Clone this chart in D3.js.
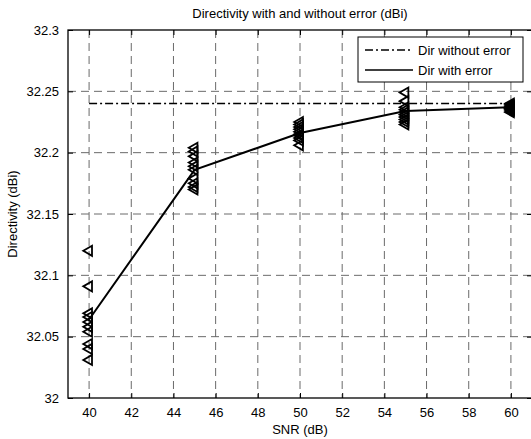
<!DOCTYPE html>
<html lang="en">
<head>
  <meta charset="UTF-8">
  <title>Directivity with and without error</title>
  <script src="https://d3js.org/d3.v7.min.js"></script>
</head>
<style>
  body {
    margin: 0;
    background: #fff;
  }
  svg {
    display: block;
    font-family: "Liberation Sans", Arial, sans-serif;
  }
  .grid line {
    stroke: #6a6a6a;
    stroke-width: 1px;
    stroke-dasharray: 8,5;
  }
</style>
<body>
<div id="chart"></div>

<script>
  // chart data
  var snr = [40, 45, 50, 55, 60];
  // directivity of each trial run (dBi), one list per SNR value
  var trialsAt40 = [32.12, 32.091, 32.069, 32.066, 32.062, 32.058, 32.054, 32.044, 32.040, 32.031];
  var trialsAt45 = [32.204, 32.201, 32.197, 32.192, 32.189, 32.186, 32.179, 32.175, 32.172, 32.170];
  var trialsAt50 = [32.225, 32.223, 32.221, 32.219, 32.217, 32.215, 32.214, 32.212, 32.210, 32.206];
  var trialsAt55 = [32.249, 32.242, 32.237, 32.235, 32.233, 32.231, 32.229, 32.227, 32.225, 32.223];
  var trialsAt60 = [32.240, 32.239, 32.238, 32.237, 32.237, 32.236, 32.236, 32.235, 32.234, 32.233];
  var dirWithError = [32.064, 32.186, 32.216, 32.234, 32.237];
  var dirWithoutError = [32.24, 32.24, 32.24, 32.24, 32.24];
  var xTicks = [40, 42, 44, 46, 48, 50, 52, 54, 56, 58, 60];
  var yTicks = [32, 32.05, 32.1, 32.15, 32.2, 32.25, 32.3];
  var seriesNames = ['Dir without error', 'Dir with error'];

  var width = 531, height = 439;
  // plot box edges (window.top is reserved, so the names are prefixed)
  var plotLeft = 68, plotRight = 532, plotTop = 30, plotBottom = 398;

  var svg = d3.select('#chart').append('svg')
    .attr('width', width)
    .attr('height', height);

  var x = d3.scaleLinear().domain([39, 61]).range([plotLeft, plotRight]);
  var y = d3.scaleLinear().domain([32, 32.3]).range([plotBottom, plotTop]);

  /** dashed grid */
  var grid = svg.append('g').attr('class', 'grid');
  grid.selectAll('.vx').data(xTicks).enter().append('line')
    .attr('x1', function(d) { return x(d); })
    .attr('x2', function(d) { return x(d); })
    .attr('y1', plotTop).attr('y2', plotBottom);
  grid.selectAll('.hy').data(yTicks.slice(1, -1)).enter().append('line')
    .attr('x1', plotLeft).attr('x2', plotRight)
    .attr('y1', function(d) { return y(d); })
    .attr('y2', function(d) { return y(d); });

  /** axes: ticks point inward on all four sides, like matlab */
  var tickFmt = function(d) { return String(+d.toFixed(2)); };
  var styleAxis = function(g) {
    g.select('.domain').remove();
    g.selectAll('.tick line').attr('stroke', '#000');
    g.selectAll('text').attr('fill', '#000').style('font-size', '13px')
      .style('font-family', '"Liberation Sans", Arial, sans-serif');
  };
  svg.append('g').attr('transform', 'translate(0,' + plotBottom + ')')
    .call(d3.axisBottom(x).tickValues(xTicks).tickSize(-5).tickPadding(10).tickFormat(tickFmt))
    .call(styleAxis);
  svg.append('g').attr('transform', 'translate(0,' + plotTop + ')')
    .call(d3.axisTop(x).tickValues(xTicks).tickSize(-5).tickFormat(''))
    .call(styleAxis);
  svg.append('g').attr('transform', 'translate(' + plotLeft + ',0)')
    .call(d3.axisLeft(y).tickValues(yTicks).tickSize(-5).tickPadding(9).tickFormat(tickFmt))
    .call(styleAxis);
  svg.append('g').attr('transform', 'translate(' + plotRight + ',0)')
    .call(d3.axisRight(y).tickValues(yTicks).tickSize(-5).tickFormat(''))
    .call(styleAxis);

  svg.append('rect')
    .attr('x', plotLeft).attr('y', plotTop)
    .attr('width', plotRight - plotLeft).attr('height', plotBottom - plotTop)
    .attr('fill', 'none').attr('stroke', '#000').attr('stroke-width', 1.3);

  /** lines */
  var line = d3.line()
    .x(function(d, i) { return x(snr[i]); })
    .y(function(d) { return y(d); });

  svg.append('path').datum(dirWithoutError)
    .attr('d', line)
    .attr('fill', 'none').attr('stroke', '#000').attr('stroke-width', 1.5)
    .attr('stroke-dasharray', '8,3,2,3');

  svg.append('path').datum(dirWithError)
    .attr('d', line)
    .attr('fill', 'none').attr('stroke', '#000').attr('stroke-width', 2);

  /** trial markers, left pointing triangles */
  var trials = [trialsAt40, trialsAt45, trialsAt50, trialsAt55, trialsAt60];
  var points = [];
  trials.forEach(function(list, i) {
    list.forEach(function(v) { points.push({ snr: snr[i], value: v }); });
  });
  var triangle = d3.symbol().type(d3.symbolTriangle).size(44);
  svg.selectAll('.marker').data(points).enter().append('path')
    .attr('class', 'marker')
    .attr('d', triangle)
    .attr('transform', function(d) {
      return 'translate(' + x(d.snr) + ',' + y(d.value) + ') rotate(-90)';
    })
    .attr('fill', 'none').attr('stroke', '#000').attr('stroke-width', 1.8);

  /** legend */
  var legend = svg.append('g').attr('transform', 'translate(358,37)');
  legend.append('rect')
    .attr('width', 165).attr('height', 45)
    .attr('fill', '#fff').attr('stroke', '#000').attr('stroke-width', 1);
  var dashes = ['8,3,2,3', null];
  legend.selectAll('.entry').data(seriesNames).enter().append('g')
    .attr('transform', function(d, i) { return 'translate(0,' + (13 + i * 20) + ')'; })
    .each(function(d, i) {
      var g = d3.select(this);
      g.append('line').attr('x1', 7).attr('x2', 55).attr('y1', 0).attr('y2', 0)
        .attr('stroke', '#000').attr('stroke-width', 1.5)
        .attr('stroke-dasharray', dashes[i]);
      g.append('text').attr('x', 60).attr('y', 4.5)
        .style('font-size', '13px').text(d);
    });

  /** titles */
  svg.append('text').attr('x', (plotLeft + plotRight) / 2).attr('y', 18)
    .attr('text-anchor', 'middle').style('font-size', '13px')
    .text('Directivity with and without error (dBi)');
  svg.append('text').attr('x', (plotLeft + plotRight) / 2).attr('y', 434)
    .attr('text-anchor', 'middle').style('font-size', '13px')
    .text('SNR (dB)');
  svg.append('text')
    .attr('transform', 'translate(17,' + ((plotTop + plotBottom) / 2) + ') rotate(-90)')
    .attr('text-anchor', 'middle').style('font-size', '13px')
    .text('Directivity (dBi)');
</script>
</body>
</html>
